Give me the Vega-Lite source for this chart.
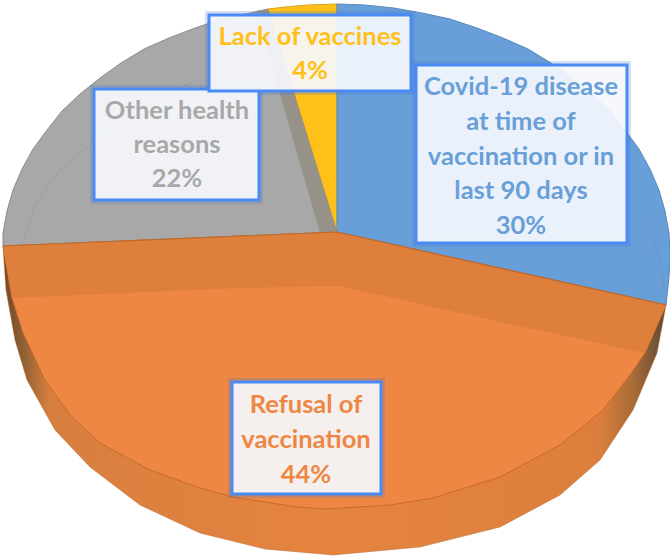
{
"$schema":"https://vega.github.io/schema/vega-lite/v6.json",
"width":670,"height":556,"padding":0,
"autosize":"none",
"background":"white",
"view":{"stroke":null},
"projection":{"type":"identity"},
"datasets":{
"frame":[{"type":"Feature","properties":{"part":"frame"},"geometry":{"type":"Polygon","coordinates":[[[0,0],[670,0],[670,556],[0,556],[0,0]]]}}],
"side":[{"type":"Feature","properties":{"part":"side"},"geometry":{"type":"Polygon","coordinates":[[[3,246],[6,290],[15,340],[27,380],[55,430],[90,467],[140,505],[200,533],[265,549],[333,555],[420,547],[500,527],[560,495],[600,460],[633,410],[657,353],[666,305],[337,280],[3,246]]]}}],
"slices":[
{"type":"Feature","properties":{"category":"Other health reasons","share":22},"geometry":{"type":"Polygon","coordinates":[[[337,232],[3,246],[3,233],[7,211],[13,190],[22,169],[33,149],[47,130],[62,111],[80,94],[100,78],[121,63],[144,49],[169,38],[195,28],[222,19],[250,13],[268,9],[337,232]]]}},
{"type":"Feature","properties":{"category":"Lack of vaccines","share":4},"geometry":{"type":"Polygon","coordinates":[[[337,232],[268,9],[285,7],[307,5],[337,4],[337,232]]]}},
{"type":"Feature","properties":{"category":"Covid-19 disease at time of vaccination or in last 90 days","share":30},"geometry":{"type":"Polygon","coordinates":[[[337,232],[337,4],[365,5],[394,8],[422,13],[450,19],[477,28],[503,38],[528,49],[551,63],[572,78],[592,94],[610,111],[625,130],[639,149],[650,169],[659,190],[665,211],[669,233],[670,255],[669,277],[666,305],[337,232]]]}},
{"type":"Feature","properties":{"category":"Refusal of vaccination","share":44},"geometry":{"type":"Polygon","coordinates":[[[337,232],[666,305],[645,353],[630,375],[603,410],[560,445],[500,477],[433,498],[390,505],[327,509],[297,507],[233,497],[200,488],[150,470],[100,443],[70,415],[45,380],[23,333],[12,298],[3,246],[337,232]]]}}
],
"band":[{"type":"Feature","properties":{"part":"band"},"geometry":{"type":"Polygon","coordinates":[[[3,246],[337,232],[666,305],[645,353],[500,322],[340,286],[240,288],[12,298],[3,246]]]}}],
"strip":[{"type":"Feature","properties":{"part":"strip"},"geometry":{"type":"Polygon","coordinates":[[[320,233],[337,231],[268,9],[256,11],[320,233]]]}}],
"edges":[
{"type":"Feature","properties":{"part":"edge"},"geometry":{"type":"LineString","coordinates":[[3,246],[337,232],[666,305]]}}
],
"faint":[
{"type":"Feature","properties":{"part":"inner"},"geometry":{"type":"LineString","coordinates":[[23,243],[35,205],[60,170],[93,142],[145,105],[203,77]]}},
{"type":"Feature","properties":{"part":"inner"},"geometry":{"type":"LineString","coordinates":[[642,220],[655,245],[662,270],[665,305]]}}
],
"boxes":[
{"type":"Feature","properties":{"category":"Covid-19"},"geometry":{"type":"Polygon","coordinates":[[[416,65],[627,65],[627,243],[416,243],[416,65]]]}},
{"type":"Feature","properties":{"category":"Other"},"geometry":{"type":"Polygon","coordinates":[[[94,89],[259,89],[259,200],[94,200],[94,89]]]}},
{"type":"Feature","properties":{"category":"Lack"},"geometry":{"type":"Polygon","coordinates":[[[209,15],[411,15],[411,91],[209,91],[209,15]]]}},
{"type":"Feature","properties":{"category":"Refusal"},"geometry":{"type":"Polygon","coordinates":[[[232,382],[381,382],[381,494],[232,494],[232,382]]]}}
],
"labels":[
{"category":"Lack of vaccines","line":"Lack of vaccines","lon":310,"lat":37},
{"category":"Lack of vaccines","line":"4%","lon":310,"lat":71},
{"category":"Other health reasons","line":"Other health","lon":177,"lat":111},
{"category":"Other health reasons","line":"reasons","lon":177,"lat":145},
{"category":"Other health reasons","line":"22%","lon":177,"lat":179},
{"category":"Covid-19 disease at time of vaccination or in last 90 days","line":"Covid-19 disease","lon":521,"lat":87},
{"category":"Covid-19 disease at time of vaccination or in last 90 days","line":"at time of","lon":521,"lat":122},
{"category":"Covid-19 disease at time of vaccination or in last 90 days","line":"vaccination or in","lon":521,"lat":157},
{"category":"Covid-19 disease at time of vaccination or in last 90 days","line":"last 90 days","lon":521,"lat":191},
{"category":"Covid-19 disease at time of vaccination or in last 90 days","line":"30%","lon":521,"lat":226},
{"category":"Refusal of vaccination","line":"Refusal of","lon":306,"lat":405},
{"category":"Refusal of vaccination","line":"vaccination","lon":306,"lat":440},
{"category":"Refusal of vaccination","line":"44%","lon":306,"lat":475}
]
},
"layer":[
{"data":{"name":"frame"},"mark":{"type":"geoshape","fill":"white","stroke":null}},
{"data":{"name":"side"},"mark":{"type":"geoshape","stroke":"#b9692f","strokeWidth":0.5,"fill":{"gradient":"linear","x1":0,"y1":0,"x2":1,"y2":0,"stops":[{"offset":0,"color":"#6e4a2e"},{"offset":0.03,"color":"#8f5f34"},{"offset":0.07,"color":"#d87f3f"},{"offset":0.5,"color":"#e5843f"},{"offset":0.9,"color":"#dc7f3c"},{"offset":0.95,"color":"#a96c36"},{"offset":1,"color":"#5c4a36"}]}}},
{"data":{"name":"slices"},"mark":{"type":"geoshape","strokeWidth":1},
 "encoding":{
  "color":{"field":"properties.category","type":"nominal","legend":null,"scale":{"domain":["Covid-19 disease at time of vaccination or in last 90 days","Refusal of vaccination","Other health reasons","Lack of vaccines"],"range":["#689fd8","#ed8743","#a8a8a8","#ffc119"]}},
  "stroke":{"field":"properties.category","type":"nominal","legend":null,"scale":{"domain":["Covid-19 disease at time of vaccination or in last 90 days","Refusal of vaccination","Other health reasons","Lack of vaccines"],"range":["#5a88b8","#cb6a2a","#8c8c8c","#d6a420"]}}
 }},
{"data":{"name":"strip"},"mark":{"type":"geoshape","fill":"#979288","stroke":null}},
{"data":{"name":"band"},"mark":{"type":"geoshape","fill":"#df7f3c","stroke":null}},
{"data":{"name":"edges"},"mark":{"type":"geoshape","filled":false,"stroke":"#bd6a30","strokeWidth":1.2}},
{"data":{"name":"faint"},"mark":{"type":"geoshape","filled":false,"stroke":"#6f7f90","strokeWidth":0.7,"strokeOpacity":0.35}},
{"data":{"name":"boxes"},"mark":{"type":"geoshape","filled":false,"stroke":"#3f73c8","strokeWidth":8,"strokeOpacity":0.22}},
{"data":{"name":"boxes"},"mark":{"type":"geoshape","fill":"#f5f7fc","fillOpacity":0.93,"stroke":"#4a8af4","strokeWidth":3}},
{"data":{"name":"labels"},"mark":{"type":"text","font":"Lato","fontWeight":"bold","fontSize":25.5,"align":"center","baseline":"middle"},
 "encoding":{
  "longitude":{"field":"lon","type":"quantitative"},
  "latitude":{"field":"lat","type":"quantitative"},
  "text":{"field":"line","type":"nominal"},
  "color":{"field":"category","type":"nominal","legend":null,"scale":{"domain":["Covid-19 disease at time of vaccination or in last 90 days","Refusal of vaccination","Other health reasons","Lack of vaccines"],"range":["#5b9bd5","#ed7d31","#a5a5a5","#ffc000"]}}
 }}
]
}
